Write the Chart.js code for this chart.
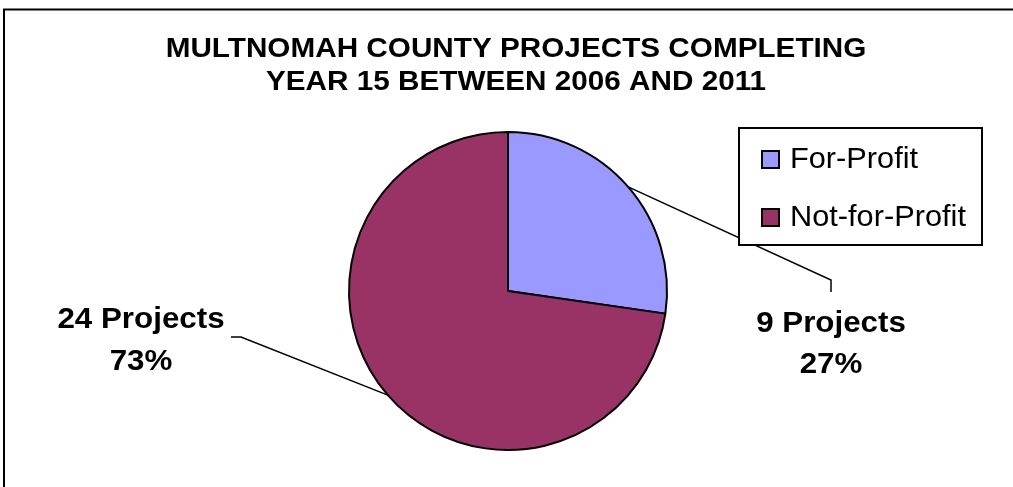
<!DOCTYPE html>
<html>
<head>
<meta charset="utf-8">
<script src="https://cdn.jsdelivr.net/npm/chart.js@4"></script>
<style>
  body { margin: 0; background: #fff; }
  canvas { display: block; }
</style>
</head>
<body>
<canvas id="pieChart" width="1013" height="487"></canvas>
<script>
const categories = ["For-Profit", "Not-for-Profit"];
const projectCounts = [9, 24];
const sliceColors = ["#9999FF", "#993366"];
const titleLines = ["MULTNOMAH COUNTY PROJECTS COMPLETING", "YEAR 15 BETWEEN 2006 AND 2011"];

// where each data label sits, relative to the pie centre
const labelLayout = [
  { dx: 323, base1: 41, base2: 82, elbow: [323, -11], end: [323, 1] },
  { dx: -367, base1: 37, base2: 79, elbow: [-267, 46], end: [-277, 46] }
];

function drawText(ctx, s, x, y, font, sx, align) {
  ctx.save();
  ctx.font = font;
  ctx.translate(x, y);
  ctx.scale(sx, 1);
  ctx.textAlign = align || "center";
  ctx.textBaseline = "alphabetic";
  ctx.fillStyle = "#000";
  ctx.fillText(s, 0, 0);
  ctx.restore();
}

const decorations = {
  id: "decorations",
  afterDraw(chart) {
    const ctx = chart.ctx;
    const arcs = chart.getDatasetMeta(0).data;
    const data = chart.data.datasets[0].data;
    const total = data.reduce((a, b) => a + b, 0);

    // outer frame
    ctx.save();
    ctx.strokeStyle = "#000";
    ctx.lineWidth = 2;
    ctx.strokeRect(4, 9.5, 1200, 700);
    ctx.restore();

    // title
    drawText(ctx, titleLines[0], 516, 57, "bold 27px 'Liberation Sans', Arial", 1.1);
    drawText(ctx, titleLines[1], 516, 90, "bold 27px 'Liberation Sans', Arial", 1.1);

    // leader lines + data labels
    arcs.forEach((arc, i) => {
      const p = arc.getProps(["x", "y", "startAngle", "endAngle", "outerRadius"], true);
      const mid = (p.startAngle + p.endAngle) / 2;
      const ax = p.x + Math.cos(mid) * p.outerRadius;
      const ay = p.y + Math.sin(mid) * p.outerRadius;
      const L = labelLayout[i];
      ctx.save();
      ctx.strokeStyle = "#000";
      ctx.lineWidth = 1.5;
      ctx.beginPath();
      ctx.moveTo(ax, ay);
      ctx.lineTo(p.x + L.elbow[0], p.y + L.elbow[1]);
      ctx.lineTo(p.x + L.end[0], p.y + L.end[1]);
      ctx.stroke();
      ctx.restore();
      const pct = Math.round(data[i] / total * 100) + "%";
      drawText(ctx, data[i] + " Projects", p.x + L.dx, p.y + L.base1, "bold 29px 'Liberation Sans', Arial", 1.08);
      drawText(ctx, pct, p.x + L.dx, p.y + L.base2, "bold 29px 'Liberation Sans', Arial", 1.08);
    });

    // legend
    ctx.save();
    ctx.fillStyle = "#fff";
    ctx.fillRect(739, 128, 243, 117);
    ctx.strokeStyle = "#000";
    ctx.lineWidth = 2;
    ctx.strokeRect(739, 128, 243, 117);
    chart.data.labels.forEach((lab, i) => {
      const y = 150 + i * 58;
      ctx.fillStyle = chart.data.datasets[0].backgroundColor[i];
      ctx.fillRect(762, y + 1, 17, 17);
      ctx.lineWidth = 2;
      ctx.strokeStyle = "#000";
      ctx.strokeRect(762, y + 1, 17, 17);
      drawText(ctx, lab, 790, y + 18, "29px 'Liberation Sans', Arial", 1.06, "left");
    });
    ctx.restore();
  }
};

new Chart(document.getElementById("pieChart"), {
  type: "pie",
  data: {
    labels: categories,
    datasets: [{
      data: projectCounts,
      backgroundColor: sliceColors,
      borderColor: "#000",
      borderWidth: 2,
      radius: 159
    }]
  },
  options: {
    responsive: false,
    animation: false,
    events: [],
    layout: { padding: { left: 100, right: 97, top: 100, bottom: 5 } },
    plugins: {
      legend: { display: false },
      title: { display: false },
      tooltip: { enabled: false }
    }
  },
  plugins: [decorations]
});
</script>
</body>
</html>
